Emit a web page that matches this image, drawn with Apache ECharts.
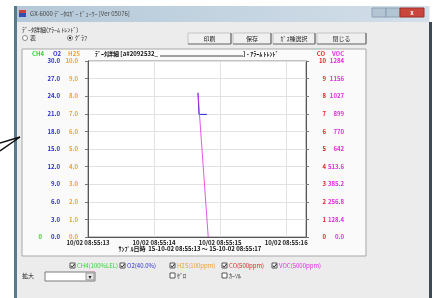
<!DOCTYPE html>
<html>
<head>
<meta charset="utf-8">
<script src="https://cdn.jsdelivr.net/npm/echarts@6/dist/echarts.min.js"></script>
<style>
html, body { margin: 0; padding: 0; background: #fff; }
#chart { width: 438px; height: 298px; }
</style>
</head>
<body>
<div id="chart"></div>
<script>
// 時間軸ラベル
var timeLabels = ['10/02 08:55:13', '10/02 08:55:14', '10/02 08:55:15', '10/02 08:55:16'];
// 縦軸ラベル（左）
var ch4Labels = ['0', '', '', '', '', '', '', '', '', '', ''];
var o2Labels = ['0.0', '3.0', '6.0', '9.0', '12.0', '15.0', '18.0', '21.0', '24.0', '27.0', '30.0'];
var h2sLabels = ['0.0', '1.0', '2.0', '3.0', '4.0', '5.0', '6.0', '7.0', '8.0', '9.0', '10.0'];
// 縦軸ラベル（右）
var coLabels = ['0', '1', '2', '3', '4', '5', '6', '7', '8', '9', '10'];
var vocLabels = ['0.0', '128.4', '256.8', '385.2', '513.6', '642', '770', '899', '1027', '1156', '1284'];
// データ（経過秒, 値）
var o2Time = [1.665, 1.68, 1.80];
var o2Values = [24.6, 20.9, 20.9];
var vocTime = [1.665, 1.82];
var vocValues = [1050, 0];

var FONT = "'Noto Sans CJK JP', 'DejaVu Sans', sans-serif";
var FS = 6;
var C_CH4 = '#2fd62f', C_O2 = '#2b2bd6', C_H2S = '#f0a02a', C_CO = '#e02424', C_VOC = '#e22ce2';

function pairs(xs, ys) {
  return xs.map(function (x, i) { return [x, ys[i]]; });
}
// 目盛り値 -> ラベル配列
function lbl(arr, step) {
  return function (v) {
    var i = Math.round(v / step);
    return Math.abs(v - i * step) < step * 0.01 ? (arr[i] || '') : '';
  };
}
function yAx(pos, max, step, labels, color, margin, extra) {
  var a = {
    type: 'value', position: pos, min: 0, max: max, interval: step,
    axisLine: { show: false },
    axisTick: { show: false },
    splitLine: { show: false },
    axisLabel: {
      color: color, fontSize: FS, fontWeight: 'bold', fontFamily: FONT,
      margin: margin, formatter: lbl(labels, step)
    }
  };
  return Object.assign(a, extra || {});
}
function txt(x, y, s, color, o) {
  o = o || {};
  return {
    type: 'text', x: x, y: y, z: 5,
    style: {
      text: s, fill: color || '#222', fontSize: o.size || FS, fontWeight: o.bold ? 'bold' : 'normal',
      fontFamily: FONT, align: o.align || 'left', verticalAlign: 'middle'
    }
  };
}
function box(x, y, w, h, fill, stroke, z) {
  return { type: 'rect', z: z == null ? -10 : z, shape: { x: x, y: y, width: w, height: h },
    style: { fill: fill || 'none', stroke: stroke || null, lineWidth: 1 } };
}
function line(x1, y1, x2, y2, color, w, z) {
  return { type: 'line', z: z == null ? -9 : z, shape: { x1: x1, y1: y1, x2: x2, y2: y2 },
    style: { stroke: color, lineWidth: w || 1 } };
}
function check(x, y, on) {
  var g = [box(x, y - 3, 5, 5, '#fff', '#555', 4)];
  if (on) g.push({ type: 'polyline', z: 5, shape: { points: [[x + 1, y - 0.5], [x + 2.2, y + 1.2], [x + 4.5, y - 2]] },
    style: { stroke: '#222', lineWidth: 1, fill: 'none' } });
  return g;
}

var graphic = [];
// 矢印（注記）
graphic.push(line(0, 143, 20, 137, '#111', 1.5, 1));
graphic.push(line(0, 151, 20, 137, '#111', 1.5, 1));
// ウィンドウ
graphic.push(box(14, 6, 416, 292, '#ececec'));
graphic.push(box(14, 6, 3, 292, '#587a90'));
graphic.push(box(429, 22, 3, 276, '#3d4a55'));
graphic.push({ type: 'rect', z: -9, shape: { x: 17, y: 6, width: 412, height: 16 },
  style: { fill: new echarts.graphic.LinearGradient(0, 0, 1, 0, [
    { offset: 0, color: '#b4c8d8' }, { offset: 1, color: '#d3dfe9' }]) } });
graphic.push(box(19, 10, 7, 7, '#d04040', null, 1));
graphic.push(box(19, 13, 7, 4, '#3050b0', null, 2));
graphic.push(txt(30, 14, 'GX-6000 ﾃﾞｰﾀﾛｶﾞｰ ﾋﾞｭｰﾜｰ [Ver 05076]', '#444'));
graphic.push(box(372, 8, 14, 9, '#b3c4d3', '#8aa0b4', 1));
graphic.push(box(386, 8, 14, 9, '#b3c4d3', '#8aa0b4', 1));
graphic.push(box(400, 8, 24, 9, '#c9463d', '#9a2e28', 1));
graphic.push(txt(412, 12.5, 'x', '#fff', { align: 'center', bold: true }));
// グループ
graphic.push(txt(22, 30, 'ﾃﾞｰﾀ詳細(ｱﾗｰﾑ ﾄﾚﾝﾄﾞ)', '#222'));
graphic.push({ type: 'circle', z: 4, shape: { cx: 25, cy: 38, r: 2.5 }, style: { fill: '#fff', stroke: '#888' } });
graphic.push(txt(30, 38, '表', '#222'));
graphic.push({ type: 'circle', z: 4, shape: { cx: 70, cy: 38, r: 2.5 }, style: { fill: '#fff', stroke: '#888' } });
graphic.push({ type: 'circle', z: 5, shape: { cx: 70, cy: 38, r: 1.2 }, style: { fill: '#333' } });
graphic.push(txt(75, 38, 'ｸﾞﾗﾌ', '#222'));
var btns = [[188, 43, '印刷'], [233, 38, '保存'], [273, 42, 'ｶﾞｽ種選択'], [317, 49, '閉じる']];
btns.forEach(function (b) {
  graphic.push(box(b[0], 33, b[1], 11, '#f0f0f0', '#c4c4c4', -8));
  graphic.push(line(b[0] + b[1], 33, b[0] + b[1], 44, '#555', 1, -7));
  graphic.push(line(b[0], 44, b[0] + b[1], 44, '#777', 1, -7));
  graphic.push(txt(b[0] + b[1] / 2, 38.5, b[2], '#222', { align: 'center' }));
});
// グラフパネル
graphic.push(box(22, 49, 344, 207, '#fafafa', '#a8a8a8', -8));
graphic.push(txt(95, 54, 'ﾃﾞｰﾀ詳細 [a#2092532_', '#111', { bold: true }));
graphic.push(line(160, 56, 243, 56, '#444', 1, 1));
graphic.push(txt(243, 54, '] - ｱﾗｰﾑ ﾄﾚﾝﾄﾞ', '#111', { bold: true }));
graphic.push(txt(38, 54, 'CH4', C_CH4, { bold: true, align: 'center' }));
graphic.push(txt(57, 54, 'O2', C_O2, { bold: true, align: 'center' }));
graphic.push(txt(74, 54, 'H2S', C_H2S, { bold: true, align: 'center' }));
graphic.push(txt(321, 54, 'CO', C_CO, { bold: true, align: 'center' }));
graphic.push(txt(338, 54, 'VOC', C_VOC, { bold: true, align: 'center' }));
graphic.push(txt(190, 249, 'ｻﾝﾌﾟﾙ日時  15-10-02 08:55:13 ～ 15-10-02 08:55:17', '#111', { bold: true, align: 'center' }));
// 下部チェックボックス
var legendItems = [[70, 'CH4(100%LEL)', C_CH4], [120, 'O2(40.0%)', C_O2], [170, 'H2S(100ppm)', C_H2S],
  [222, 'CO(500ppm)', C_CO], [272, 'VOC(5000ppm)', C_VOC]];
legendItems.forEach(function (it) {
  graphic = graphic.concat(check(it[0], 266, true));
  graphic.push(txt(it[0] + 7, 266, it[1], it[2]));
});
graphic = graphic.concat(check(170, 276, false));
graphic.push(txt(177, 276, 'ｾﾞﾛ', '#222'));
graphic = graphic.concat(check(222, 276, false));
graphic.push(txt(229, 276, 'ｶｰｿﾙ', '#222'));
graphic.push(txt(22, 276, '拡大', '#222'));
graphic.push(box(45, 272, 50, 9, '#fff', '#7a7a7a', -8));
graphic.push(box(86, 273, 8, 7, '#e4e4e4', '#999', -7));
graphic.push(txt(90, 276.5, '▾', '#222', { align: 'center', size: 6 }));

var option = {
  animation: false,
  textStyle: { fontFamily: FONT },
  grid: {
    left: 88, right: 132, top: 61, bottom: 61, containLabel: false,
    show: true, backgroundColor: '#fff', borderColor: '#8a8a8a', borderWidth: 1
  },
  xAxis: {
    type: 'value', min: 0, max: 3.3, interval: 1,
    axisLine: { show: true, lineStyle: { color: '#555' } },
    axisTick: { show: false },
    splitLine: { show: true, lineStyle: { color: '#e2e2e2' } },
    axisLabel: {
      color: '#222', fontSize: FS, fontWeight: 'bold', fontFamily: FONT, margin: 3,
      showMaxLabel: false,
      formatter: function (v) { return Number.isInteger(v) ? (timeLabels[v] || '') : ''; }
    }
  },
  yAxis: [
    yAx('left', 30, 3, o2Labels, C_O2, 28, {
      axisLine: { show: true, lineStyle: { color: '#555' } },
      axisTick: { show: true, length: 3, lineStyle: { color: '#777' } },
      splitLine: { show: true, lineStyle: { color: '#e2e2e2' } }
    }),
    yAx('left', 10, 1, h2sLabels, C_H2S, 10),
    yAx('left', 100, 10, ch4Labels, C_CH4, 46),
    yAx('right', 10, 1, coLabels, C_CO, 20, {
      axisLine: { show: true, lineStyle: { color: '#555' } },
      axisTick: { show: true, length: 3, lineStyle: { color: '#777' } }
    }),
    yAx('right', 1284, 128.4, vocLabels, C_VOC, 38)
  ],
  series: [
    {
      name: 'O2', type: 'line', yAxisIndex: 0, data: pairs(o2Time, o2Values),
      showSymbol: false, lineStyle: { color: C_O2, width: 1 }
    },
    {
      name: 'VOC', type: 'line', yAxisIndex: 4, data: pairs(vocTime, vocValues),
      showSymbol: false, lineStyle: { color: C_VOC, width: 1, opacity: 0.8 }
    }
  ],
  graphic: graphic
};
option.yAxis[3].axisLabel.align = 'right';
option.yAxis[4].axisLabel.align = 'right';

var myChart = echarts.init(document.getElementById('chart'));
myChart.setOption(option);
</script>
</body>
</html>
